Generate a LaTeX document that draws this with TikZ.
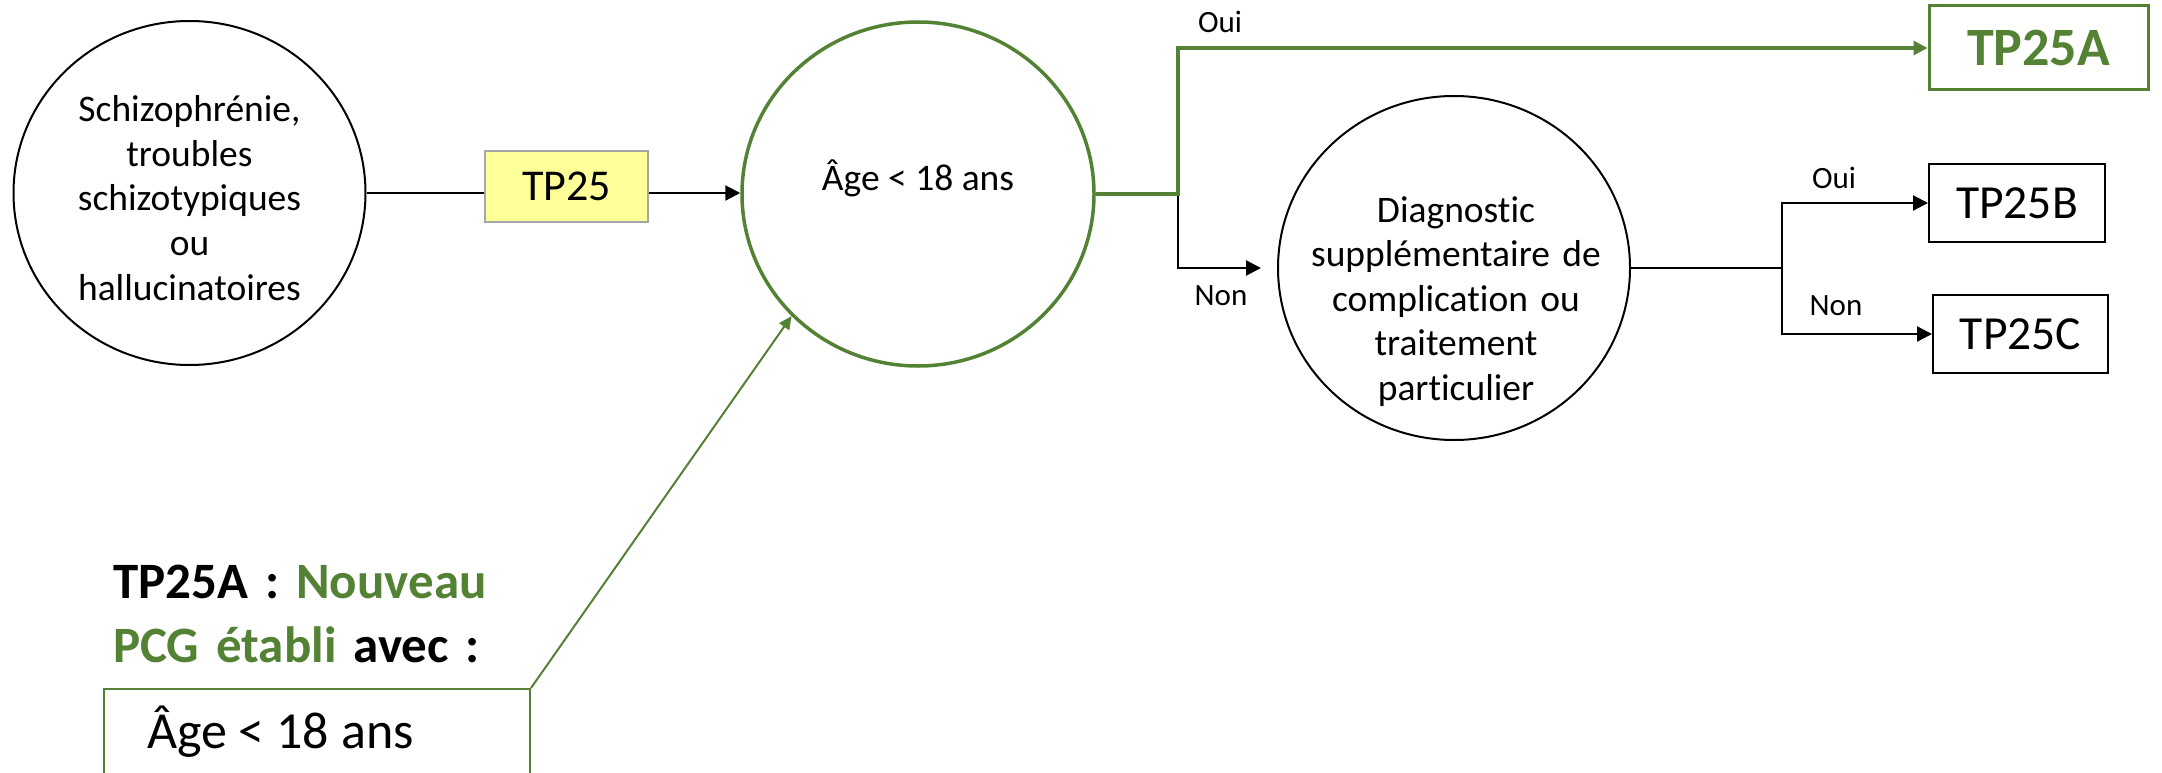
\documentclass[tikz,border=0pt]{standalone}
\usepackage{fontspec}
\setmainfont{Carlito}[Ligatures=NoCommon]
\usetikzlibrary{shapes.geometric,arrows.meta}
\definecolor{vert}{RGB}{84,130,53}
\definecolor{jaune}{RGB}{255,255,153}
\definecolor{gris}{RGB}{166,166,166}
\begin{document}
\begin{tikzpicture}[x=1pt,y=-1pt,
  rond/.style={ellipse, draw, line width=2pt, minimum width=352pt, minimum height=344pt, inner sep=0pt},
  txtrond/.style={anchor=base, text width=340pt, align=center, inner sep=0pt, font=\fontsize{37.5}{44.5}\selectfont},
  boite/.style={rectangle, draw, line width=2pt, inner sep=0pt, minimum height=78pt},
  fleche/.style={-{Triangle[length=15pt,width=15pt]}, line width=2.2pt},
  etiq/.style={anchor=base, inner sep=0pt, font=\fontsize{31}{36}\selectfont}]
\useasboundingbox (0,0) rectangle (2162,773);
\clip (0,0) rectangle (2162,773);

% circles
\node[rond] (c1) at (189.5,193) {};
\node[txtrond] (c1t) at (189.5,122) {Schizophrénie,\\troubles\\schizotypiques\\ou\\hallucinatoires};
\node[rond, draw=vert, line width=3.5pt] (c2) at (918,194) {};
\node[anchor=base, inner sep=0pt, font=\fontsize{37.5}{44}\selectfont] (c2t) at (918,190) {Âge < 18 ans};
\node[rond] (c3) at (1454,268) {};
\node[txtrond] (c3t) at (1456,222) {Diagnostic\\supplémentaire de\\complication ou\\traitement\\particulier};

% boxes
\node[rectangle, draw=gris, fill=jaune, line width=2pt, inner sep=0pt, minimum width=163pt, minimum height=71pt, font=\fontsize{44}{50}\selectfont] (tp25) at (566.5,186.5) {TP25};
\node[rectangle, draw=vert, line width=3pt, inner sep=0pt, minimum width=219pt, minimum height=84pt, text=vert, font=\fontsize{54}{60}\selectfont\bfseries] (tp25a) at (2038.5,48) {TP25A};
\node[boite, minimum width=176pt, font=\fontsize{47.5}{52}\selectfont] (tp25b) at (2017,203) {TP25B};
\node[boite, minimum width=175pt, font=\fontsize{47.5}{52}\selectfont] (tp25c) at (2020.5,334) {TP25C};

% junctions
\coordinate (j1) at (1178,194);
\coordinate (j2) at (1782,268);

% connectors
\draw[line width=2.2pt] (c1.east) -- (tp25.west |- c1.east);
\draw[fleche] (tp25.east |- c1.east) -- (c2.west |- c1.east);
\draw[fleche, shorten >=16pt] (j1) |- (c3.west);
\draw[vert, line width=3.3pt, -{Triangle[length=14pt,width=14pt]}] (c2.east) -- (j1) |- (tp25a.west);
\draw[line width=2.2pt] (c3.east) -- (j2);
\draw[fleche] (j2) |- (tp25b.west);
\draw[fleche] (j2) |- (tp25c.west);

% labels
\node[etiq] (l1) at (1220,33) {Oui};
\node[etiq] (l2) at (1221,305) {Non};
\node[etiq] (l3) at (1834,188) {Oui};
\node[etiq] (l4) at (1836,315) {Non};

% legend
\node[anchor=base west, text width=420pt, align=left, inner sep=0pt, font=\fontsize{51}{64}\selectfont\bfseries] (leg) at (113,598) {TP25A : \textcolor{vert}{Nouveau}\\\textcolor{vert}{PCG établi} avec :};
\node[rectangle, draw=vert, line width=2pt, anchor=north west, inner sep=0pt, minimum width=426pt, minimum height=140pt] (crit) at (103,688) {};
\node[anchor=base west, inner sep=0pt, font=\fontsize{52}{58}\selectfont] (critt) at (147,748) {Âge < 18 ans};
\draw[vert, line width=2pt, -{Triangle[length=13pt,width=12pt]}] (crit.north east) -- (c2.224);
\end{tikzpicture}
\end{document}
